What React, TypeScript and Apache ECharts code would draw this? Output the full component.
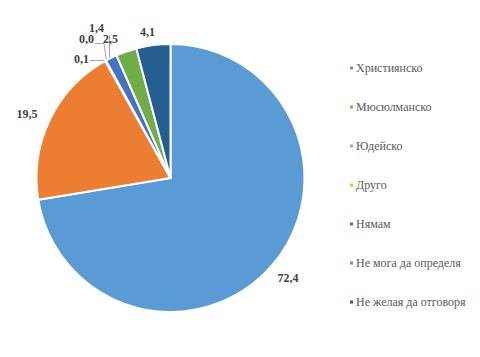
import React, { useEffect, useRef } from "react";
import * as echarts from "echarts";

const categories = [
  "Християнско",
  "Мюсюлманско",
  "Юдейско",
  "Друго",
  "Нямам",
  "Не мога да определя",
  "Не желая да отговоря",
];
const values = [72.4, 19.5, 0.1, 0.0, 1.4, 2.5, 4.1];
const colors = ["#5B9BD5", "#ED7D31", "#A5A5A5", "#FFC000", "#4472C4", "#70AD47", "#255E91"];

// label placement (centres of the value labels) and leader lines
const labelPos: [number, number][] = [
  [288, 278],
  [27, 114],
  [81.5, 59],
  [86.5, 39],
  [96.5, 28],
  [110.5, 38.5],
  [147.5, 32],
];
const leaderLines: ([number, number][] | null)[] = [
  null,
  null,
  [[90, 60.5], [104, 60.5], [107, 64]],
  [[95, 43.5], [104, 43.5], [107, 64]],
  [[109.5, 35], [109.5, 63]],
  null,
  null,
];

const FONT = "'Liberation Serif', 'Times New Roman', serif";

export default function App() {
  const ref = useRef<HTMLDivElement>(null);
  useEffect(() => {
    if (!ref.current) return;
    const chart = echarts.init(ref.current, undefined, { renderer: "svg" });
    chart.setOption({
      animation: false,
      backgroundColor: "#ffffff",
      textStyle: { fontFamily: FONT },
      legend: {
        orient: "vertical",
        left: 348,
        top: 61,
        padding: 0,
        itemWidth: 5,
        itemHeight: 5,
        itemGap: 25,
        icon: "rect",
        textStyle: {
          fontFamily: FONT,
          fontSize: 12,
          color: "#595959",
          lineHeight: 14,
          padding: [0, 0, 0, -3],
        },
        data: categories,
      },
      series: [
        {
          type: "pie",
          center: [170.5, 178],
          radius: 134,
          startAngle: 90,
          clockwise: true,
          avoidLabelOverlap: false,
          minShowLabelAngle: 0,
          stillShowZeroSum: true,
          itemStyle: { borderColor: "#ffffff", borderWidth: 2 },
          label: {
            show: true,
            position: "outside",
            fontFamily: FONT,
            fontSize: 12,
            fontWeight: "bold",
            color: "#404040",
            formatter: (p: any) => Number(p.value).toFixed(1).replace(".", ","),
          },
          labelLine: { show: true, length: 12, length2: 0, lineStyle: { color: "#A6A6A6", width: 1 } },
          labelLayout: (params: any) => {
            const i = params.dataIndex;
            const [x, y] = labelPos[i];
            const res: any = { x, y, align: "center", verticalAlign: "middle", hideOverlap: false };
            const pts = leaderLines[i];
            res.labelLinePoints = pts ? pts : [[x, y], [x, y]];
            return res;
          },
          data: categories.map((name, i) => ({
            name,
            value: values[i],
            itemStyle: { color: colors[i] },
            labelLine: { show: !!leaderLines[i] },
          })),
        },
      ],
    });
    return () => chart.dispose();
  }, []);
  return (
    <div
      ref={ref}
      style={{ position: "absolute", left: 0, top: 0, width: 480, height: 357 }}
    />
  );
}
